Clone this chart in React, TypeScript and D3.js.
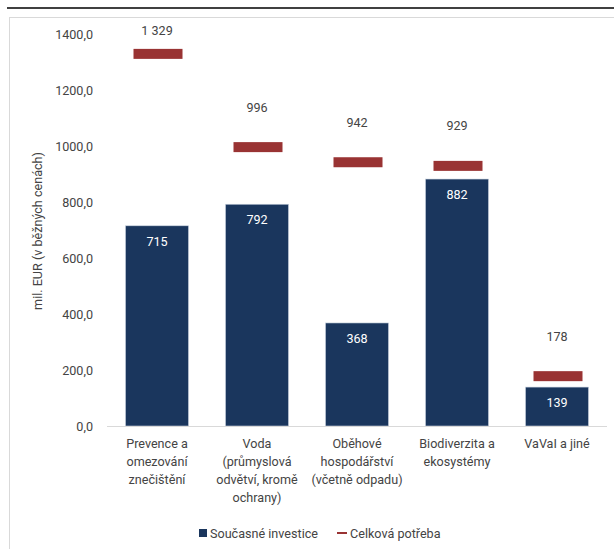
import React from "react";
import * as d3 from "d3";

const categories = ["Prevence a omezování znečištění", "Voda (průmyslová odvětví, kromě ochrany)", "Oběhové hospodářství (včetně odpadu)", "Biodiverzita a ekosystémy", "VaVaI a jiné"];
const categoryLines = [
  ["Prevence a", "omezování", "znečištění"],
  ["Voda", "(průmyslová", "odvětví, kromě", "ochrany)"],
  ["Oběhové", "hospodářství", "(včetně odpadu)"],
  ["Biodiverzita a", "ekosystémy"],
  ["VaVaI a jiné"],
];
const currentInvestment = [715, 792, 368, 882, 139];
const totalNeed = [1329, 996, 942, 929, 178];
const yTicks = [0, 200, 400, 600, 800, 1000, 1200, 1400];
const seriesNames = ["Současné investice", "Celková potřeba"];

const W = 614, H = 549;
const font = "Roboto, 'Open Sans', sans-serif";
const textColor = "#444444";
const barColor = "#1a365d";
const needColor = "#993333";
const fs = 12.6;

export default function App() {
  const x = d3.scaleBand<string>().domain(categories).range([107, 607]).paddingInner(0.37).paddingOuter(0.185);
  const y = d3.scaleLinear().domain([0, 1400]).range([426, 34]);
  const fmtTick = (v: number) => d3.format(".1f")(v).replace(".", ",");
  const fmtVal = (v: number) => d3.format(",")(v).replace(",", " ");
  const markerW = 49, markerH = 10;
  return (
    <svg width={W} height={H} style={{ position: "absolute", left: 0, top: 0, background: "#fff" }} fontFamily={font}>
      <line x1={7} x2={W} y1={8} y2={8} stroke="#000" strokeWidth={1.5} />
      <rect x={9.5} y={17.5} width={W + 20} height={H + 20} fill="none" stroke="#d9d9d9" strokeWidth={1} />
      {yTicks.map((t) => (
        <text key={t} x={93} y={y(t) + 4.5} textAnchor="end" fontSize={fs} fill={textColor}>{fmtTick(t)}</text>
      ))}
      <text transform={`translate(42,231) rotate(-90)`} textAnchor="middle" fontSize={fs} fill={textColor}>mil. EUR (v běžných cenách)</text>
      {categories.map((c, i) => {
        const bx = x(c)!;
        const bw = x.bandwidth();
        const cx = bx + bw / 2;
        const v = currentInvestment[i];
        const n = totalNeed[i];
        const my = y(n);
        const labelY = Math.max(my - 40, 30);
        return (
          <g key={c}>
            <rect x={bx} y={y(v)} width={bw} height={y(0) - y(v)} fill={barColor} stroke="#c9d3e0" strokeWidth={0.6} />
            <text x={cx} y={y(v) + 20} textAnchor="middle" fontSize={fs} fill="#fff">{fmtVal(v)}</text>
            <rect x={cx - markerW / 2 + 1} y={my - markerH / 2} width={markerW} height={markerH} fill={needColor} />
            <text x={cx} y={labelY + 4.5} textAnchor="middle" fontSize={fs} fill={textColor}>{fmtVal(n)}</text>
            {categoryLines[i].map((l, j) => (
              <text key={j} x={cx} y={443 + j * 18 + 4.5} textAnchor="middle" fontSize={fs} fill={textColor}>{l}</text>
            ))}
          </g>
        );
      })}
      <line x1={107} x2={607} y1={426.5} y2={426.5} stroke="#d9d9d9" strokeWidth={1} />
      <rect x={199} y={529} width={8} height={8} fill={barColor} />
      <text x={210} y={537.5} fontSize={fs} fill={textColor}>{seriesNames[0]}</text>
      <line x1={337} x2={347} y1={533} y2={533} stroke={needColor} strokeWidth={2} />
      <text x={350} y={537.5} fontSize={fs} fill={textColor}>{seriesNames[1]}</text>
    </svg>
  );
}
